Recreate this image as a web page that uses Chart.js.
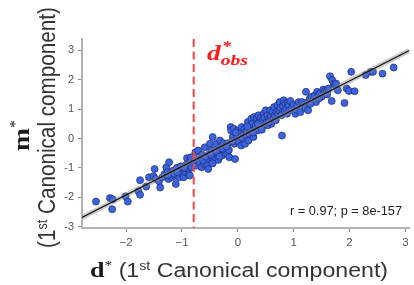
<!DOCTYPE html>
<html><head><meta charset="utf-8">
<script src="https://cdn.jsdelivr.net/npm/chart.js@4.4.1/dist/chart.umd.min.js"></script>
<style>html,body{margin:0;padding:0;background:#fff}#wrap{position:relative;width:414px;height:285px}</style>
</head><body><div id="wrap"><canvas id="c"></canvas></div>
<script>
// d* (1st canonical component) values
const dStar = [-2.54,-2.29,-2.24,-2.25,-2.01,-1.97,-1.78,-1.75,-1.75,-1.64,-1.59,-1.51,-1.47,-1.49,-1.41,-1.39,-1.35,-1.31,-1.28,-1.26,
  -1.24,-1.21,-1.18,-1.16,-1.12,-1.11,-1.09,-1.06,-1.05,-1.03,-1.00,-0.97,-0.94,-0.92,-0.91,-0.89,-0.88,-0.86,-0.85,-0.82,
  -0.84,-0.78,-0.76,-0.74,-0.72,-0.71,-0.68,-0.65,-0.64,-0.60,-0.59,-0.56,-0.55,-0.53,-0.51,-0.50,-0.47,-0.45,-0.44,-0.41,
  -0.40,-0.38,-0.36,-0.35,-0.32,-0.31,-0.29,-0.28,-0.26,-0.24,-0.22,-0.21,-0.19,-0.18,-0.16,-0.15,-0.13,-0.12,-0.09,-0.07,
  -0.06,-0.05,-0.03,-0.01,0.00,0.02,0.03,0.05,0.06,0.07,0.09,0.11,0.12,0.13,0.15,0.16,0.18,0.19,0.21,0.22,
  0.24,0.25,0.26,0.28,0.29,0.31,0.32,0.34,0.35,0.37,0.38,0.40,0.41,0.42,0.44,0.46,0.47,0.48,0.50,0.52,
  0.53,0.54,0.56,0.58,0.59,0.60,0.62,0.64,0.65,0.66,0.68,0.69,0.71,0.72,0.74,0.75,0.76,0.78,0.79,0.81,
  0.82,0.84,0.85,0.87,0.88,0.89,0.91,0.93,0.94,0.97,1.00,1.03,1.05,1.06,1.09,1.12,1.15,1.18,1.21,1.22,
  1.25,1.26,1.29,1.32,1.35,1.38,1.40,1.42,1.44,1.47,1.50,1.53,1.56,1.59,1.62,1.65,1.68,1.69,1.72,1.74,
  1.76,1.79,1.91,1.95,1.99,2.03,2.09,2.29,2.38,2.42,2.59,2.79,
  -1.25,-1.14,-1.02,-0.96,-1.08,-1.23,-0.62,-0.58,-0.48,-0.45,-0.38,-0.33,-0.27,-0.20,-0.10,-0.04,0.17,0.27,0.36,0.43,0.55,1.30,1.45,1.60];
// m* (1st canonical component) values
const mStar = [-2.15,-2.03,-2.07,-2.41,-1.97,-2.15,-1.80,-1.92,-1.42,-1.64,-1.32,-1.29,-1.38,-1.04,-1.46,-1.67,-1.32,-1.21,-0.98,-1.15,
  -1.38,-1.21,-1.32,-1.10,-1.27,-1.55,-1.00,-1.19,-1.32,-1.10,-1.21,-1.32,-1.15,-0.89,-0.67,-1.04,-1.21,-1.26,-0.73,-0.98,
  -0.64,-0.84,-0.47,-0.92,-0.73,-0.41,-0.81,-0.98,-0.55,-0.87,-0.30,-0.70,-0.92,-1.04,-0.53,-0.18,-0.39,0.05,-0.70,-0.64,
  -0.41,-0.18,-0.53,-0.73,-0.07,-0.30,-0.47,-0.58,-0.16,-0.35,-0.41,-0.24,-0.53,-0.16,-0.39,-0.64,0.39,0.27,0.05,0.33,
  -0.18,-0.70,-0.07,0.10,0.27,-0.13,0.10,0.22,-0.24,0.39,-0.01,0.16,0.33,-0.18,0.10,0.27,0.56,-0.07,0.16,0.39,
  0.67,0.27,0.50,0.05,0.73,0.33,0.45,0.67,0.27,0.79,0.56,0.39,0.71,0.50,0.62,0.84,0.45,0.71,0.96,0.56,
  0.79,0.45,0.67,0.96,0.75,0.50,0.90,0.71,1.07,0.79,0.62,0.90,1.13,0.84,0.96,1.24,1.05,0.79,0.10,1.10,
  1.30,0.96,1.19,1.02,0.84,1.21,1.13,0.96,1.28,1.07,1.16,0.84,0.98,1.13,1.24,0.90,1.24,1.13,1.02,1.59,
  1.24,0.96,1.36,1.42,1.30,1.47,1.24,1.59,1.47,1.53,1.42,1.67,1.62,1.59,1.70,2.12,1.28,1.99,1.87,1.82,
  1.87,1.64,1.21,1.70,1.62,2.27,1.61,2.16,2.27,2.27,2.21,2.42,
  -1.25,-1.20,-0.95,-1.00,-1.15,-0.81,-0.75,-0.62,-0.55,-0.85,-0.45,-0.62,-0.35,-0.28,-0.10,0.20,0.40,0.20,0.50,0.30,0.55,1.18,1.36,1.50];
// fitted regression line (end points)
const fitD = [-2.79, 3.07];
const fitM = [-2.69, 3.00];
// observed d* (dashed red line)
const dObs = -0.79;
const xTickValues = [-2, -1, 0, 1, 2, 3];
const yTickValues = [-3, -2, -1, 0, 1, 2, 3];
const statText = 'r = 0.97; p = 8e-157';

const pts = dStar.map((d, i) => ({x: d, y: mStar[i]}));
const fitPts = fitD.map((d, i) => ({x: d, y: fitM[i]}));

function drawParts(ctx, parts, ox, oy, targetW, rot) {
  ctx.save();
  let W = 0;
  parts.forEach(p => { ctx.font = p.font; p.w = (p.adv !== undefined) ? p.adv : ctx.measureText(p.text).width; W += p.w; });
  ctx.translate(ox, oy);
  if (rot) ctx.rotate(rot);
  ctx.scale(targetW / W, 1);
  ctx.textBaseline = 'alphabetic'; ctx.textAlign = 'left';
  let x = 0;
  parts.forEach(p => { ctx.font = p.font; ctx.fillStyle = p.color; ctx.fillText(p.text, x + (p.dx || 0), p.dy || 0); x += p.w; });
  ctx.restore();
}

const SERIF = "'Liberation Serif', 'Times New Roman', serif";
const SANS = "'Liberation Sans', Arial, sans-serif";

const overlay = {
  id: 'overlay',
  afterDatasetsDraw(chart) {
    const ctx = chart.ctx, a = chart.chartArea, xs = chart.scales.x;
    const px = xs.getPixelForValue(dObs);
    ctx.save();
    ctx.strokeStyle = '#ff4545'; ctx.lineWidth = 2; ctx.setLineDash([8, 4.5]);
    ctx.beginPath(); ctx.moveTo(px, a.top); ctx.lineTo(px, a.bottom); ctx.stroke();
    ctx.restore();
  },
  afterDraw(chart) {
    const ctx = chart.ctx;
    const red = '#ff1a1a', ink = '#1a1a1a';
    // d*_obs label
    drawParts(ctx, [
      {text: 'd', font: 'bold italic 21px ' + SERIF, color: red},
      {text: '*', font: 'bold italic 14px ' + SERIF, color: red, dy: -9, dx: 1, adv: 0},
      {text: 'obs', font: 'bold italic 15px ' + SERIF, color: red, dy: 5}
    ], 207, 60, 41, 0);
    // stats text
    drawParts(ctx, [{text: statText, font: '12px ' + SANS, color: '#222'}], 290, 215, 112, 0);
    // x axis title
    drawParts(ctx, [
      {text: 'd', font: 'bold 22px ' + SERIF, color: ink},
      {text: '*', font: '13px ' + SERIF, color: ink, dy: -8},
      {text: ' (1', font: '19.5px ' + SANS, color: '#333'},
      {text: 'st', font: '12px ' + SANS, color: '#333', dy: -7},
      {text: ' Canonical component)', font: '19.5px ' + SANS, color: '#333'}
    ], 90, 277, 298, 0);
    // y axis title, line 1
    drawParts(ctx, [
      {text: 'm', font: 'bold 24px ' + SERIF, color: ink},
      {text: '*', font: '14px ' + SERIF, color: ink, dy: -9}
    ], 29, 151, 31, -Math.PI / 2);
    // y axis title, line 2
    drawParts(ctx, [
      {text: '(1', font: '23px ' + SANS, color: '#333'},
      {text: 'st', font: '14px ' + SANS, color: '#333', dy: -8},
      {text: ' Canonical component)', font: '23px ' + SANS, color: '#333'}
    ], 55, 248, 241, -Math.PI / 2);
  }
};

new Chart(document.getElementById('c'), {
  type: 'scatter',
  data: {
    datasets: [
      {data: pts, order: 2, pointRadius: 3.5, pointBackgroundColor: 'rgb(60,100,224)', pointBorderColor: '#1c2b72', pointBorderWidth: 0.7, showLine: false},
      {data: fitPts, order: 1, showLine: true, pointRadius: 0, borderColor: 'rgba(140,140,140,0.45)', borderWidth: 5},
      {data: fitPts, order: 0, showLine: true, pointRadius: 0, borderColor: '#111', borderWidth: 1.2}
    ]
  },
  options: {
    responsive: true, maintainAspectRatio: false, animation: false,
    layout: {padding: {top: 39, left: 0, right: 0, bottom: 0}},
    plugins: {legend: {display: false}, tooltip: {enabled: false}},
    scales: {
      x: {
        type: 'linear', min: -2.79, max: 3.07,
        afterBuildTicks: s => { s.ticks = xTickValues.map(v => ({value: v})); },
        afterFit: s => { s.height = 57; s.paddingLeft = 0; s.paddingRight = 0; },
        grid: {drawOnChartArea: false, drawTicks: true, tickLength: 4, color: '#8a8a8a', lineWidth: 1},
        border: {display: true, color: '#b3b3b3', width: 2},
        ticks: {padding: 4, color: '#555', font: {family: SANS, size: 11.5}, maxRotation: 0,
          callback: v => v < 0 ? '\u2212' + Math.abs(v) : String(v)}
      },
      y: {
        type: 'linear', min: -3.05, max: 3.39,
        afterBuildTicks: s => { s.ticks = yTickValues.map(v => ({value: v})); },
        afterFit: s => { s.width = 82; s.paddingTop = 0; s.paddingBottom = 0; },
        grid: {drawOnChartArea: false, drawTicks: true, tickLength: 4, color: '#8a8a8a', lineWidth: 1},
        border: {display: true, color: '#b3b3b3', width: 2},
        ticks: {padding: 4, color: '#555', font: {family: SANS, size: 11}, callback: v => String(v)}
      }
    }
  },
  plugins: [overlay]
});
</script>
</body></html>
